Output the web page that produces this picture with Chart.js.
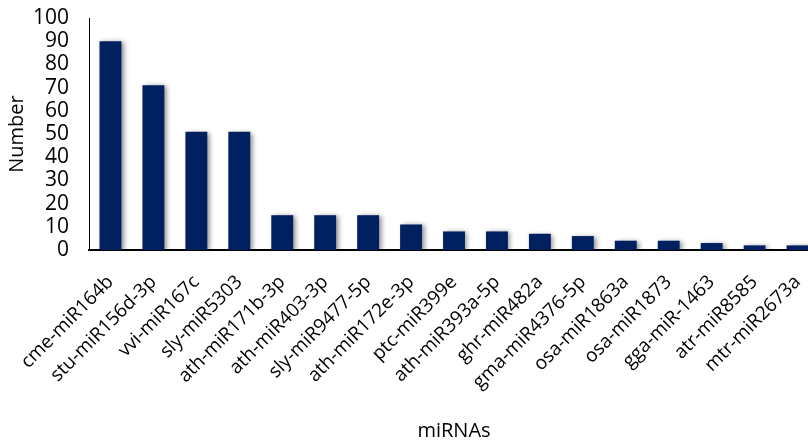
<!DOCTYPE html>
<html>
<head>
<meta charset="utf-8">
<script src="https://cdn.jsdelivr.net/npm/chart.js@4"></script>
<style>
  html, body { margin: 0; padding: 0; background: #ffffff; overflow: hidden; }
  #wrap { position: relative; width: 830px; height: 443px; }
</style>
</head>
<body>
<div id="wrap"><canvas id="chart" width="830" height="443"></canvas></div>
<script>
// miRNA names along the x axis
const categories = [
  'cme-miR164b', 'stu-miR156d-3p', 'vvi-miR167c', 'sly-miR5303',
  'ath-miR171b-3p', 'ath-miR403-3p', 'sly-miR9477-5p', 'ath-miR172e-3p',
  'ptc-miR399e', 'ath-miR393a-5p', 'ghr-miR482a', 'gma-miR4376-5p',
  'osa-miR1863a', 'osa-miR1873', 'gga-miR-1463', 'atr-miR8585', 'mtr-miR2673a'
];
// count for each miRNA
const counts = [90, 71, 51, 51, 15, 15, 15, 11, 8, 8, 7, 6, 4, 4, 3, 2, 2];
// y axis tick values
const yTicks = [0, 10, 20, 30, 40, 50, 60, 70, 80, 90, 100];

const FONT = "'Open Sans', 'Liberation Sans', sans-serif";

// soft drop shadow behind the bars
const barShadow = {
  id: 'barShadow',
  beforeDatasetsDraw(chart) {
    const ctx = chart.ctx;
    ctx.save();
    ctx.shadowColor = 'rgba(0,0,0,0.45)';
    ctx.shadowBlur = 5;
    ctx.shadowOffsetX = 2.5;
    ctx.shadowOffsetY = 1;
  },
  afterDatasetsDraw(chart) {
    chart.ctx.restore();
  }
};

new Chart(document.getElementById('chart'), {
  type: 'bar',
  data: {
    labels: categories,
    datasets: [{
      data: counts,
      backgroundColor: '#002060',
      borderWidth: 0,
      categoryPercentage: 1.0,
      barPercentage: 0.51
    }]
  },
  plugins: [barShadow],
  options: {
    responsive: false,
    animation: false,
    devicePixelRatio: 1,
    layout: { padding: { top: 18, right: 11, bottom: 0, left: 0 } },
    plugins: { legend: { display: false }, tooltip: { enabled: false } },
    scales: {
      x: {
        grid: { display: false, drawTicks: false },
        border: { display: true, color: '#000000', width: 2 },
        ticks: {
          color: '#000000',
          font: { family: FONT, size: 19 },
          maxRotation: 45, minRotation: 45,
          autoSkip: false,
          padding: 21
        },
        title: {
          display: true, text: 'miRNAs', color: '#000000',
          font: { family: FONT, size: 20 },
          padding: { top: 0, bottom: 0 }
        },
        afterFit(scale) {
          scale.height = 193;
          scale.paddingLeft = 0;
          scale.paddingRight = 0;
        }
      },
      y: {
        min: 0, max: 100,
        afterBuildTicks(scale) { scale.ticks = yTicks.map(v => ({ value: v })); },
        grid: { display: false, drawTicks: false },
        border: { display: true, color: '#000000', width: 1 },
        ticks: {
          color: '#000000',
          font: { family: FONT, size: 21 },
          padding: 20,
          autoSkip: false
        },
        title: {
          display: true, text: 'Number', color: '#000000',
          font: { family: FONT, size: 20 },
          padding: { top: 5, bottom: 0 }
        },
        afterFit(scale) {
          scale.width = 89;
          scale.paddingTop = 0;
          scale.paddingBottom = 0;
        }
      }
    }
  }
});
</script>
</body>
</html>
